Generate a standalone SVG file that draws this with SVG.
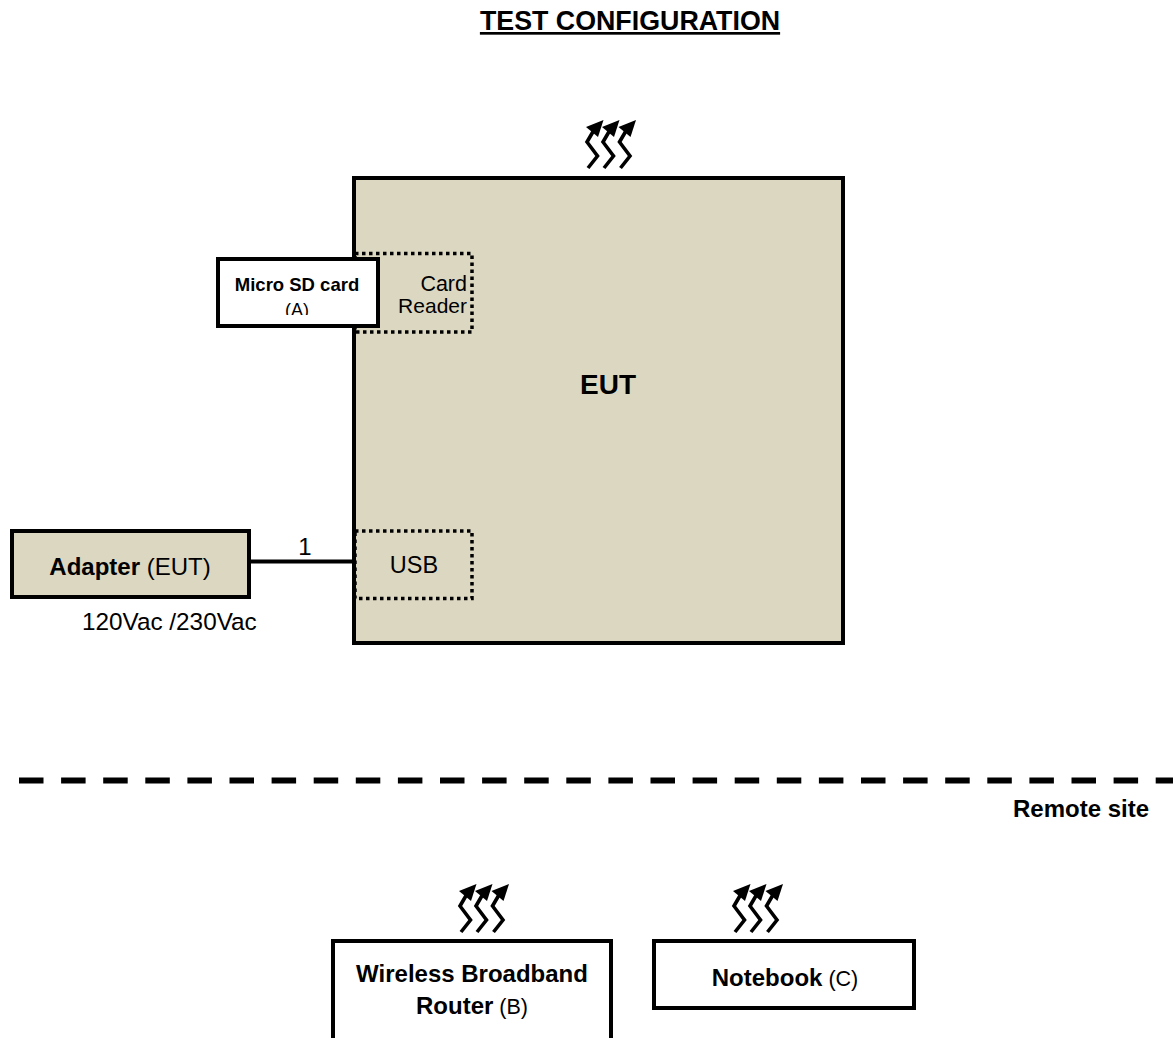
<svg xmlns="http://www.w3.org/2000/svg" width="1173" height="1038" viewBox="0 0 1173 1038">
<style>
text{font-family:"Liberation Sans",Arial,sans-serif;fill:#000}
.b{font-weight:bold}
.box{stroke:#000;stroke-width:4}
.tan{fill:#dcd7c1}
.white{fill:#fff}
.dot{fill:none;stroke:#000;stroke-width:3.500;stroke-dasharray:3.500 3.500}
.line{fill:none;stroke:#000}
.s{font-size:24px}
.m{text-anchor:middle}
</style>
<defs>
<g id="wave"><path class="line" stroke-width="3.600" d="M588 168L597.500 156L587 142L594 130"/><path d="M603.500 120L586 127L598 137Z"/></g>
<g id="waves"><use href="#wave"/><use href="#wave" x="16"/><use href="#wave" x="32.500"/></g>
</defs>
<rect width="1173" height="1038" fill="#fff"/>
<text id="title" x="630" y="30" class="b m" font-size="26.800" text-decoration="underline">TEST CONFIGURATION</text>
<g id="eut">
<rect class="box tan" x="354" y="178" width="489" height="465"/>
<text x="608" y="394" class="b m" font-size="28">EUT</text>
<use href="#waves"/>
</g>
<g id="card-reader">
<rect class="dot" x="355" y="253.500" width="117" height="78.500"/>
<text x="467" y="291" font-size="21.500" text-anchor="end">Card</text>
<text x="467" y="313" font-size="21" text-anchor="end">Reader</text>
</g>
<g id="usb">
<rect class="dot" x="355" y="531" width="117" height="67.500"/>
<text x="414" y="573" font-size="23.500" class="m">USB</text>
</g>
<g id="connectors">
<path class="line" stroke-width="4" d="M249 561.500H354"/>
<text x="305" y="555" class="s m">1</text>
<path class="line" stroke-width="6" stroke-dasharray="24.500 17.600" d="M19 780.500H1173"/>
</g>
<g id="micro-sd">
<rect class="box white" x="218" y="259" width="160" height="67"/>
<text x="297" y="291" class="b m" font-size="18.500">Micro SD card</text>
<text x="297" y="316" class="m" font-size="18">(A)</text>
<rect x="220" y="315" width="156" height="9" fill="#fff"/>
</g>
<g id="adapter">
<rect class="box tan" x="12" y="531" width="237" height="66"/>
<text x="130" y="575" class="s m"><tspan class="b">Adapter</tspan> (EUT)</text>
<text x="82" y="630" font-size="24.300">120Vac /230Vac</text>
</g>
<text id="remote" x="1149" y="817" class="b s" text-anchor="end">Remote site</text>
<g id="router">
<use href="#waves" x="-127" y="764"/>
<path class="box white" d="M333 1040V941H611V1040"/>
<text x="472" y="982" class="b m s">Wireless Broadband</text>
<text x="472" y="1014" class="m" font-size="21.500"><tspan class="b" font-size="24">Router</tspan> (B)</text>
</g>
<g id="notebook">
<use href="#waves" x="147" y="764"/>
<rect class="box white" x="654" y="941" width="260" height="67"/>
<text x="785" y="986" class="m" font-size="21.500"><tspan class="b" font-size="24">Notebook</tspan> (C)</text>
</g>
</svg>
